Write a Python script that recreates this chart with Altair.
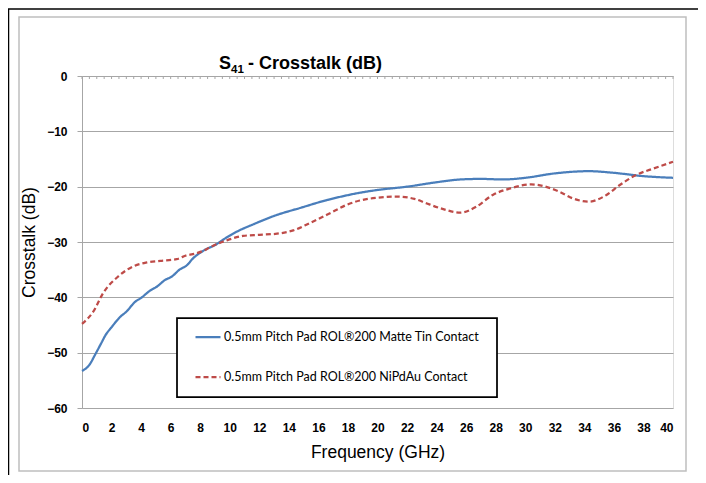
import altair as alt
import pandas as pd

# Matte Tin contact (blue, solid)
f_tin = [0, 0.5, 0.9, 1.3, 1.6, 2.0, 2.6, 3.0, 3.6, 4.0, 4.6, 5.05, 5.6, 6.1, 6.6, 7.1, 7.5, 8.2,
         9.1, 9.6, 10.5, 11.6, 13.2, 14.7, 16.6, 17.7, 18.8, 20.0, 22.0, 24.0, 25.6, 27.0, 28.5,
         30.0, 32.0, 34.3, 36.0, 38.0, 40.0]
v_tin = [-53.3, -52.2, -50.3, -48.3, -46.8, -45.4, -43.5, -42.6, -40.8, -40.1, -38.8, -38.1, -36.9,
         -36.2, -35.0, -34.2, -33.0, -31.6, -30.4, -29.5, -28.1, -26.8, -25.1, -23.9, -22.4, -21.7,
         -21.1, -20.6, -20.0, -19.2, -18.7, -18.6, -18.7, -18.4, -17.6, -17.2, -17.5, -18.1, -18.4]

# NiPdAu contact (red, dashed)
f_ni = [0, 0.76, 1.44, 2.46, 3.47, 4.4, 5.3, 6.4, 7.1, 7.5, 8.2, 8.7, 9.8, 10.9, 12.0, 13.2, 14.3,
        15.4, 17.0, 17.9, 18.8, 20.0, 21.3, 22.5, 23.3, 24.5, 25.6, 26.7, 27.8, 29.0, 30.4, 32.3,
        33.2, 34.3, 35.5, 36.4, 37.5, 38.7, 40]
v_ni = [-44.8, -42.6, -39.2, -36.2, -34.4, -33.7, -33.4, -33.1, -32.4, -32.2, -31.6, -30.9, -29.7,
        -28.9, -28.7, -28.5, -27.9, -26.6, -24.5, -23.3, -22.5, -22.0, -21.8, -22.2, -23.0, -24.1,
        -24.7, -23.6, -21.5, -20.3, -19.6, -20.9, -22.1, -22.7, -21.5, -19.7, -17.9, -16.7, -15.5]

series_names = ["0.5mm Pitch Pad ROL®200 Matte Tin Contact",
                "0.5mm Pitch Pad ROL®200 NiPdAu Contact"]
series_colors = ["#4A7EBB", "#BE4B48"]
title_parts = ["S", "41", "- Crosstalk (dB)"]
x_labels = list(range(0, 41, 2))
x_minor = [i * 0.5 for i in range(81)]
y_ticks = list(range(-60, 1, 10))

df = pd.concat([
    pd.DataFrame({"f": f_tin, "v": v_tin, "s": series_names[0]}),
    pd.DataFrame({"f": f_ni, "v": v_ni, "s": series_names[1]}),
])
minor_df = pd.DataFrame({"f": x_minor})
one = pd.DataFrame({"k": [0]})

W, H = 591, 332
FONT = "Liberation Sans"
GRAY = "#a6a6a6"

xscale = alt.Scale(domain=[0, 40], nice=False, zero=False)
yscale = alt.Scale(domain=[-60, 0], nice=False)

xaxis = alt.Axis(orient="bottom", values=x_labels, ticks=False, domain=False, grid=False,
                 labelOverlap=False, labelFont=FONT, labelFontSize=12, labelFontWeight="bold",
                 labelColor="black", labelPadding=14, title="Frequency (GHz)",
                 titleFont=FONT, titleFontSize=17.5, titleFontWeight="normal",
                 titleColor="black", titlePadding=10)
yaxis = alt.Axis(values=y_ticks, grid=True, gridColor=GRAY, domainColor=GRAY, tickColor=GRAY,
                 tickSize=5, labelFont=FONT, labelFontSize=12, labelFontWeight="bold",
                 labelColor="black", labelPadding=10, title="Crosstalk (dB)", titleFont=FONT,
                 titleFontSize=17.5, titleFontWeight="normal", titleColor="black", titlePadding=8)

legend_cfg = dict(title=None, orient="none", legendX=112, legendY=247,
                  symbolType="stroke", symbolSize=625, symbolStrokeWidth=2.25,
                  labelFont="Lato", labelFontSize=12.5, labelColor="black", labelLimit=400,
                  labelOffset=2, rowPadding=19, padding=0)

# decorative frames
gray_frame = alt.Chart(one).mark_rect(fillOpacity=0, stroke="#bfbfbf", strokeWidth=1.5).encode(
    x=alt.value(-63), x2=alt.value(604), y=alt.value(-59), y2=alt.value(395))
black_top = alt.Chart(one).mark_rule(color="black", strokeWidth=1.5).encode(
    x=alt.value(-74), x2=alt.value(640), y=alt.value(-67))
black_left = alt.Chart(one).mark_rule(color="black", strokeWidth=1.5).encode(
    x=alt.value(-73.5), y=alt.value(-67), y2=alt.value(420))
legend_box = alt.Chart(one).mark_rect(fill="white", stroke="black", strokeWidth=1.75).encode(
    x=alt.value(95), x2=alt.value(415), y=alt.value(242), y2=alt.value(321))

# title pieces (S with subscript 41)
t_s = alt.Chart(one).mark_text(text=title_parts[0], font=FONT, fontSize=18, fontWeight="bold",
                               align="left", baseline="alphabetic", color="black").encode(
    x=alt.value(137), y=alt.value(-7))
t_sub = alt.Chart(one).mark_text(text=title_parts[1], font=FONT, fontSize=11.5, fontWeight="bold",
                                 align="left", baseline="alphabetic", color="black").encode(
    x=alt.value(149), y=alt.value(-3))
t_rest = alt.Chart(one).mark_text(text=title_parts[2], font=FONT, fontSize=18, fontWeight="bold",
                                  align="left", baseline="alphabetic", color="black").encode(
    x=alt.value(166), y=alt.value(-7))

lines = alt.Chart(df).mark_line(strokeWidth=2.25, interpolate="monotone").encode(
    x=alt.X("f:Q", scale=xscale, axis=xaxis),
    y=alt.Y("v:Q", scale=yscale, axis=yaxis),
    color=alt.Color("s:N", scale=alt.Scale(domain=series_names, range=series_colors),
                    legend=alt.Legend(**legend_cfg)),
    strokeDash=alt.StrokeDash("s:N", scale=alt.Scale(domain=series_names, range=[[1, 0], [5, 3]]),
                              legend=alt.Legend(**legend_cfg)),
)

top_ticks = alt.Chart(minor_df).mark_tick(orient="vertical", size=3, thickness=1,
                                          color=GRAY, opacity=1).encode(
    x=alt.X("f:Q", scale=xscale, axis=xaxis), y=alt.value(1.5))

chart = alt.layer(gray_frame, black_top, black_left, t_s, t_sub, t_rest, lines, top_ticks,
                  legend_box).properties(
    width=W, height=H,
    autosize=alt.AutoSizeParams(type="none"),
    padding={"left": 74, "top": 68, "right": 25, "bottom": 67},
).configure_view(stroke=None).configure(background="white")

chart.save("out.html", embed_options={"renderer": "svg", "actions": False})
